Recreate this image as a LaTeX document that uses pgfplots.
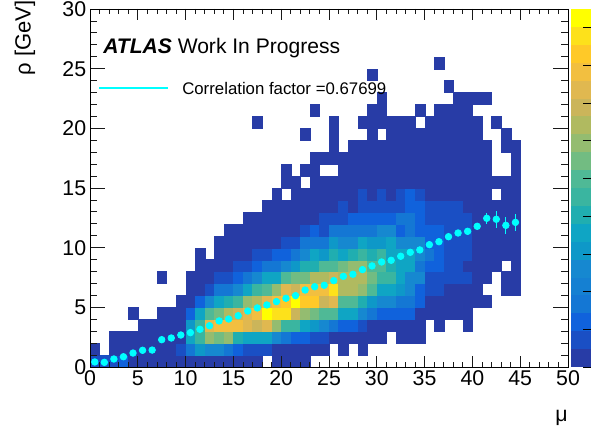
\documentclass[border=0pt]{standalone}
\usepackage{fontspec}
\setmainfont{Liberation Sans}
\usepackage{pgfplots}
\pgfplotsset{compat=1.18}
\definecolor{rootcyan}{RGB}{0,255,255}
\pgfdeclareplotmark{bincell}{\pgfpathrectangle{\pgfpointorigin}{\pgfpoint{7.17pt}{8.95pt}}\pgfusepathqfillstroke}
\pgfdeclareplotmark{barcell}{\pgfpathrectangle{\pgfpointorigin}{\pgfpoint{15pt}{13.425pt}}\pgfusepathqfill}
\pgfplotsset{
  colormap={rootpal}{
    rgb255=(40,60,166) rgb255=(26,79,196) rgb255=(16,98,220) rgb255=(20,119,212)
    rgb255=(22,136,208) rgb255=(14,152,200) rgb255=(15,165,196) rgb255=(32,174,176)
    rgb255=(58,181,160) rgb255=(79,185,150) rgb255=(114,188,130) rgb255=(148,188,112)
    rgb255=(176,186,96) rgb255=(203,181,90) rgb255=(224,184,80) rgb255=(242,191,64)
    rgb255=(255,201,40) rgb255=(253,225,27) rgb255=(255,255,0)
  },
  rootaxis/.style={
    scale only axis, width=358.5pt, height=268.5pt,
    at={(67.5pt,51pt)}, anchor=south west,
    xmin=0, xmax=50, ymin=0, ymax=30,
    line width=0.6pt,
    tick style={line width=0.6pt, black!90},
    tick align=inside,
    tick label style={font=\fontsize{16}{16}\selectfont, inner sep=0pt},
    /pgf/number format/assume math mode=true,
  },
}
\begin{document}
\begin{tikzpicture}
\useasboundingbox (0,0) rectangle (443.25pt,326.25pt);
% ---------- histogram
\begin{axis}[rootaxis,
  xtick=\empty, ytick=\empty,
  point meta min=1, point meta max=19,
]
\addplot[scatter, only marks, mark=bincell, mark options={line width=0.15pt},
  point meta=explicit,
  scatter/use mapped color={draw=mapped color, fill=mapped color}]
 table[meta=c, row sep=\\]{
x y c\\
0 0 2\\ 1 0 2\\ 2 0 2\\ 3 0 3\\ 4 0 1\\ 5 0 1\\ 6 0 1\\ 7 0 1\\ 8 0 1\\ 9 0 1\\ 10 0 1\\ 11 0 1\\ 12 0 1\\ 13 0 1\\ 14 0 1\\ 15 0 1\\ 16 0 1\\ 17 0 1\\ 19 0 1\\ 20 0 1\\ 21 0 1\\ 22 0 1\\
0 1 1\\ 2 1 1\\ 3 1 1\\ 4 1 1\\ 5 1 1\\ 6 1 1\\ 7 1 1\\ 8 1 1\\ 9 1 2\\ 10 1 4\\ 11 1 6\\ 12 1 5\\ 13 1 5\\ 14 1 4\\ 15 1 3\\ 16 1 2\\ 17 1 2\\ 18 1 2\\ 19 1 1\\ 20 1 1\\ 21 1 1\\ 22 1 1\\ 23 1 1\\ 24 1 1\\ 26 1 1\\ 28 1 1\\
2 2 1\\ 3 2 1\\ 4 2 1\\ 5 2 1\\ 6 2 1\\ 7 2 1\\ 8 2 1\\ 9 2 1\\ 10 2 7\\ 11 2 9\\ 12 2 12\\ 13 2 11\\ 14 2 12\\ 15 2 8\\ 16 2 7\\ 17 2 7\\ 18 2 7\\ 19 2 5\\ 20 2 4\\ 21 2 3\\ 22 2 3\\ 23 2 2\\ 24 2 2\\ 25 2 1\\ 26 2 1\\ 27 2 1\\ 28 2 1\\ 29 2 1\\ 30 2 1\\ 32 2 1\\ 33 2 1\\ 34 2 1\\
5 3 1\\ 6 3 1\\ 7 3 1\\ 8 3 1\\ 9 3 1\\ 10 3 6\\ 11 3 9\\ 12 3 15\\ 13 3 16\\ 14 3 16\\ 15 3 16\\ 16 3 15\\ 17 3 14\\ 18 3 15\\ 19 3 12\\ 20 3 9\\ 21 3 9\\ 22 3 7\\ 23 3 6\\ 24 3 5\\ 25 3 4\\ 26 3 3\\ 27 3 3\\ 28 3 2\\ 29 3 1\\ 30 3 1\\ 31 3 1\\ 32 3 1\\ 33 3 1\\ 34 3 1\\ 36 3 1\\ 39 3 1\\
4 4 1\\ 7 4 1\\ 8 4 1\\ 9 4 1\\ 10 4 3\\ 11 4 7\\ 12 4 10\\ 13 4 11\\ 14 4 13\\ 15 4 14\\ 16 4 15\\ 17 4 16\\ 18 4 19\\ 19 4 18\\ 20 4 18\\ 21 4 14\\ 22 4 12\\ 23 4 11\\ 24 4 10\\ 25 4 10\\ 26 4 7\\ 27 4 7\\ 28 4 5\\ 29 4 4\\ 30 4 3\\ 31 4 3\\ 32 4 3\\ 33 4 3\\ 34 4 1\\ 35 4 1\\ 36 4 1\\ 37 4 1\\ 38 4 1\\ 39 4 1\\
9 5 1\\ 10 5 1\\ 11 5 3\\ 12 5 5\\ 13 5 7\\ 14 5 8\\ 15 5 9\\ 16 5 12\\ 17 5 13\\ 18 5 15\\ 19 5 16\\ 20 5 17\\ 21 5 19\\ 22 5 17\\ 23 5 17\\ 24 5 14\\ 25 5 15\\ 26 5 10\\ 27 5 10\\ 28 5 8\\ 29 5 6\\ 30 5 5\\ 31 5 5\\ 32 5 4\\ 33 5 4\\ 34 5 3\\ 35 5 1\\ 36 5 1\\ 37 5 1\\ 38 5 1\\ 39 5 1\\ 40 5 1\\ 41 5 1\\
10 6 1\\ 11 6 1\\ 12 6 2\\ 13 6 4\\ 14 6 4\\ 15 6 5\\ 16 6 7\\ 17 6 9\\ 18 6 10\\ 19 6 12\\ 20 6 15\\ 21 6 14\\ 22 6 16\\ 23 6 16\\ 24 6 16\\ 25 6 18\\ 26 6 13\\ 27 6 13\\ 28 6 12\\ 29 6 10\\ 30 6 7\\ 31 6 7\\ 32 6 6\\ 33 6 5\\ 34 6 3\\ 35 6 2\\ 36 6 2\\ 37 6 1\\ 38 6 1\\ 39 6 1\\ 40 6 1\\ 43 6 1\\ 44 6 1\\
7 7 1\\ 10 7 1\\ 11 7 1\\ 12 7 1\\ 13 7 2\\ 14 7 2\\ 15 7 3\\ 16 7 4\\ 17 7 5\\ 18 7 7\\ 19 7 7\\ 20 7 10\\ 21 7 11\\ 22 7 11\\ 23 7 13\\ 24 7 13\\ 25 7 14\\ 26 7 13\\ 27 7 13\\ 28 7 13\\ 29 7 11\\ 30 7 9\\ 31 7 9\\ 32 7 7\\ 33 7 5\\ 34 7 5\\ 35 7 2\\ 36 7 2\\ 37 7 2\\ 38 7 2\\ 39 7 2\\ 40 7 1\\ 41 7 1\\ 43 7 1\\ 44 7 1\\
11 8 1\\ 12 8 1\\ 13 8 1\\ 14 8 1\\ 15 8 2\\ 16 8 2\\ 17 8 3\\ 18 8 4\\ 19 8 4\\ 20 8 5\\ 21 8 6\\ 22 8 8\\ 23 8 8\\ 24 8 10\\ 25 8 10\\ 26 8 11\\ 27 8 12\\ 28 8 12\\ 29 8 10\\ 30 8 10\\ 31 8 8\\ 32 8 7\\ 33 8 7\\ 34 8 4\\ 35 8 3\\ 36 8 3\\ 37 8 2\\ 38 8 2\\ 39 8 1\\ 40 8 1\\ 41 8 1\\ 42 8 1\\ 44 8 1\\
11 9 1\\ 13 9 1\\ 14 9 1\\ 15 9 1\\ 16 9 1\\ 17 9 2\\ 18 9 2\\ 19 9 3\\ 20 9 3\\ 21 9 4\\ 22 9 5\\ 23 9 7\\ 24 9 6\\ 25 9 8\\ 26 9 7\\ 27 9 8\\ 28 9 9\\ 29 9 8\\ 30 9 9\\ 31 9 7\\ 32 9 7\\ 33 9 7\\ 34 9 5\\ 35 9 4\\ 36 9 3\\ 37 9 2\\ 38 9 2\\ 39 9 2\\ 40 9 1\\ 41 9 1\\ 42 9 1\\ 43 9 1\\ 44 9 1\\
13 10 1\\ 14 10 1\\ 15 10 1\\ 16 10 1\\ 17 10 1\\ 18 10 1\\ 19 10 1\\ 20 10 2\\ 21 10 2\\ 22 10 4\\ 23 10 4\\ 24 10 4\\ 25 10 6\\ 26 10 5\\ 27 10 5\\ 28 10 7\\ 29 10 6\\ 30 10 6\\ 31 10 7\\ 32 10 5\\ 33 10 5\\ 34 10 5\\ 35 10 3\\ 36 10 3\\ 37 10 2\\ 38 10 2\\ 39 10 2\\ 40 10 1\\ 41 10 1\\ 42 10 1\\ 43 10 1\\ 44 10 1\\
14 11 1\\ 15 11 1\\ 16 11 1\\ 17 11 1\\ 18 11 1\\ 19 11 1\\ 20 11 1\\ 21 11 1\\ 22 11 2\\ 23 11 3\\ 24 11 2\\ 25 11 4\\ 26 11 4\\ 27 11 4\\ 28 11 4\\ 29 11 4\\ 30 11 5\\ 31 11 5\\ 32 11 3\\ 33 11 4\\ 34 11 3\\ 35 11 3\\ 36 11 3\\ 37 11 2\\ 38 11 2\\ 39 11 2\\ 40 11 1\\ 41 11 1\\ 42 11 1\\ 43 11 1\\ 44 11 1\\
16 12 1\\ 17 12 1\\ 18 12 1\\ 19 12 1\\ 20 12 1\\ 21 12 1\\ 22 12 1\\ 23 12 1\\ 24 12 2\\ 25 12 2\\ 26 12 2\\ 27 12 3\\ 28 12 3\\ 29 12 3\\ 30 12 3\\ 31 12 3\\ 32 12 4\\ 33 12 4\\ 34 12 3\\ 35 12 2\\ 36 12 2\\ 37 12 2\\ 38 12 2\\ 39 12 2\\ 40 12 1\\ 41 12 1\\ 42 12 1\\ 43 12 1\\ 44 12 1\\
18 13 1\\ 19 13 1\\ 20 13 1\\ 21 13 1\\ 22 13 1\\ 23 13 1\\ 24 13 1\\ 25 13 1\\ 26 13 2\\ 27 13 1\\ 28 13 2\\ 29 13 2\\ 30 13 2\\ 31 13 2\\ 32 13 2\\ 33 13 3\\ 34 13 3\\ 35 13 2\\ 36 13 2\\ 37 13 2\\ 38 13 2\\ 39 13 1\\ 40 13 1\\ 41 13 1\\ 42 13 1\\ 43 13 1\\ 44 13 1\\
19 14 1\\ 21 14 1\\ 22 14 1\\ 23 14 1\\ 24 14 1\\ 25 14 1\\ 26 14 1\\ 27 14 1\\ 28 14 2\\ 29 14 1\\ 30 14 2\\ 31 14 1\\ 32 14 2\\ 33 14 3\\ 34 14 2\\ 35 14 1\\ 36 14 1\\ 37 14 1\\ 38 14 1\\ 39 14 1\\ 40 14 1\\ 41 14 1\\ 43 14 1\\ 44 14 1\\
20 15 1\\ 21 15 1\\ 23 15 1\\ 24 15 1\\ 25 15 1\\ 26 15 1\\ 27 15 1\\ 28 15 1\\ 29 15 1\\ 30 15 1\\ 31 15 1\\ 32 15 1\\ 33 15 1\\ 34 15 1\\ 35 15 1\\ 36 15 1\\ 37 15 1\\ 38 15 1\\ 39 15 1\\ 40 15 1\\ 41 15 1\\ 42 15 1\\ 43 15 1\\ 44 15 1\\
20 16 1\\ 22 16 1\\ 23 16 1\\ 26 16 1\\ 27 16 1\\ 28 16 1\\ 29 16 1\\ 30 16 1\\ 31 16 1\\ 32 16 1\\ 33 16 1\\ 34 16 1\\ 35 16 1\\ 36 16 1\\ 37 16 1\\ 38 16 1\\ 39 16 1\\ 40 16 1\\ 41 16 1\\ 44 16 1\\
23 17 1\\ 24 17 1\\ 25 17 1\\ 26 17 1\\ 27 17 1\\ 28 17 1\\ 29 17 1\\ 30 17 1\\ 31 17 1\\ 32 17 1\\ 33 17 1\\ 34 17 1\\ 35 17 1\\ 36 17 1\\ 37 17 1\\ 38 17 1\\ 39 17 1\\ 40 17 1\\ 41 17 1\\ 44 17 1\\
25 18 1\\ 27 18 1\\ 28 18 1\\ 29 18 1\\ 30 18 1\\ 31 18 1\\ 32 18 1\\ 33 18 1\\ 34 18 1\\ 35 18 1\\ 36 18 1\\ 37 18 1\\ 38 18 1\\ 39 18 1\\ 40 18 1\\ 41 18 1\\ 43 18 1\\ 44 18 1\\
22 19 1\\ 25 19 1\\ 29 19 1\\ 31 19 1\\ 32 19 1\\ 33 19 1\\ 34 19 1\\ 35 19 1\\ 36 19 1\\ 37 19 1\\ 38 19 1\\ 39 19 1\\ 40 19 1\\ 43 19 1\\
17 20 1\\ 25 20 1\\ 28 20 1\\ 29 20 1\\ 30 20 1\\ 31 20 1\\ 32 20 1\\ 33 20 1\\ 35 20 1\\ 36 20 1\\ 37 20 1\\ 38 20 1\\ 39 20 1\\ 40 20 1\\ 42 20 1\\
23 21 1\\ 29 21 1\\ 30 21 1\\ 34 21 1\\ 36 21 1\\ 37 21 1\\ 38 21 1\\ 39 21 1\\
30 22 1\\ 38 22 1\\ 39 22 1\\ 40 22 1\\ 41 22 1\\
37 23 1\\
29 24 1\\
36 25 1\\
};
\end{axis}
% ---------- x ticks
\begin{axis}[rootaxis,
  xtick={0,5,...,50}, minor x tick num=4, xtick pos=both,
  ytick=\empty,
  major tick length=8.25pt, minor tick length=4.1pt,
  xticklabel style={yshift=-2.6pt},
]
\end{axis}
% ---------- y ticks, profile points
\begin{axis}[rootaxis,
  xtick=\empty,
  ytick={0,5,...,30}, minor y tick num=4, ytick pos=both,
  major tick length=11pt, minor tick length=5.4pt,
  yticklabel style={xshift=-2.6pt},
  clip=false,
]
\addplot[only marks, mark=*, mark size=2.45pt, color=rootcyan, mark options={draw=rootcyan, fill=rootcyan},
  error bars/.cd, y dir=both, y explicit, error mark=none,
  error bar style={line width=0.8pt, rootcyan}]
 table[x=x, y=y, y error=e, row sep=\\]{
x y e\\
0.5 0.42 0.05\\ 1.5 0.39 0.05\\ 2.5 0.67 0.05\\ 3.5 0.86 0.05\\ 4.5 1.17 0.05\\ 5.5 1.40 0.05\\ 6.5 1.42 0.05\\
7.5 2.29 0.05\\ 8.5 2.43 0.05\\ 9.5 2.68 0.05\\ 10.5 2.88 0.05\\ 11.5 3.16 0.05\\ 12.5 3.46 0.05\\ 13.5 3.86 0.05\\
14.5 4.02 0.05\\ 15.5 4.30 0.05\\ 16.5 4.69 0.05\\ 17.5 4.95 0.05\\ 18.5 5.20 0.05\\ 19.5 5.48 0.05\\ 20.5 5.76 0.05\\
21.5 5.98 0.05\\ 22.5 6.45 0.05\\ 23.5 6.73 0.05\\ 24.5 6.85 0.05\\ 25.5 7.24 0.05\\ 26.5 7.60 0.05\\ 27.5 7.77 0.05\\
28.5 8.16 0.05\\ 29.5 8.47 0.05\\ 30.5 8.80 0.05\\ 31.5 8.94 0.05\\ 32.5 9.28 0.05\\ 33.5 9.61 0.05\\ 34.5 9.81 0.05\\
35.5 10.25 0.1\\ 36.5 10.50 0.1\\ 37.5 10.92 0.1\\ 38.5 11.23 0.15\\ 39.5 11.37 0.15\\ 40.5 11.79 0.25\\
41.5 12.46 0.45\\ 42.5 12.38 0.71\\ 43.5 11.87 0.70\\ 44.5 12.12 0.74\\
};
\end{axis}
% ---------- palette
\begin{axis}[
  scale only axis, width=15pt, height=268.5pt,
  at={(428.25pt,51pt)}, anchor=south west,
  xmin=0, xmax=1, ymin=0, ymax=9.5,
  axis line style={draw=none},
  xtick=\empty, ytick=\empty,
  point meta min=1, point meta max=19,
]
\addplot[scatter, only marks, mark=barcell, point meta=explicit,
  scatter/use mapped color={draw=none, fill=mapped color}]
 table[meta=c, row sep=\\]{
x y c\\
0 0 1\\ 0 0.475 2\\ 0 0.95 3\\ 0 1.425 4\\ 0 1.9 4.5\\ 0 2.375 5\\ 0 2.85 6\\ 0 3.325 7\\ 0 3.8 8\\ 0 4.275 9\\
0 4.75 10\\ 0 5.225 11\\ 0 5.7 12\\ 0 6.175 13\\ 0 6.65 14\\ 0 7.125 15\\ 0 7.6 16\\ 0 8.075 17\\ 0 8.55 18\\ 0 9.025 19\\
};
\end{axis}
\begin{axis}[
  scale only axis, width=15pt, height=268.5pt,
  at={(428.25pt,51pt)}, anchor=south west,
  xmin=0, xmax=1, ymin=0, ymax=9.5,
  axis y line*=right, axis x line=none,
  y axis line style={opacity=0},
  xtick=\empty, ytick={0,1,...,9}, yticklabels={},
  tick align=inside, major tick length=6pt,
  tick style={draw=black, draw opacity=1, line width=0.6pt},
]
\end{axis}
% ---------- texts
\node[anchor=west, inner sep=0pt, font=\fontsize{15.8}{16}\selectfont] at (77.25pt,290.25pt)
  {\textbf{\textit{ATLAS}} Work In Progress};
\draw[rootcyan, line width=0.9pt] (74.25pt,260.25pt) -- (126pt,260.25pt);
\node[anchor=west, inner sep=0pt, font=\fontsize{12.6}{13}\selectfont] at (136.5pt,260.25pt)
  {Correlation factor =0.67699};
\node[rotate=90, anchor=east, inner sep=0pt, font=\fontsize{16.5}{16}\selectfont] at (18.75pt,326pt) {ρ [GeV]};
\node[anchor=east, inner sep=0pt, font=\fontsize{16}{16}\selectfont] at (426pt,13pt) {μ};
\end{tikzpicture}
\end{document}
